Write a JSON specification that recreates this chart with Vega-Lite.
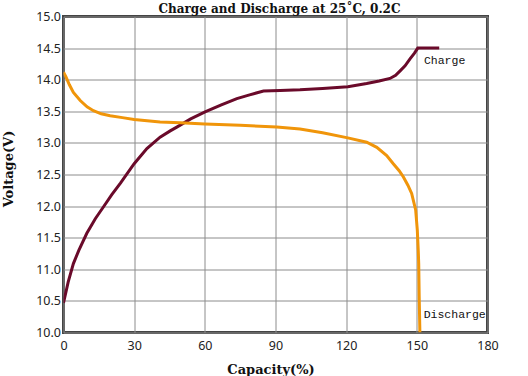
{
  "$schema": "https://vega.github.io/schema/vega-lite/v6.json",
  "width": 424,
  "height": 316,
  "autosize": {"type": "none"},
  "padding": {"left": 63.5, "top": 16.5, "right": 40.5, "bottom": 43.5},
  "background": "white",
  "title": {
    "text": "Charge and Discharge at 25˚C, 0.2C",
    "font": "DejaVu Serif",
    "fontSize": 12,
    "fontWeight": "bold",
    "color": "#111",
    "baseline": "middle",
    "offset": 1,
    "dx": 4,
    "dy": 11.5
  },
  "datasets": {
    "curves": [
      {"series": "Charge", "x": 0, "v": 10.47},
      {"series": "Charge", "x": 2, "v": 10.8},
      {"series": "Charge", "x": 4.2, "v": 11.09},
      {"series": "Charge", "x": 6.5, "v": 11.3},
      {"series": "Charge", "x": 9.9, "v": 11.57},
      {"series": "Charge", "x": 13.5, "v": 11.8},
      {"series": "Charge", "x": 17, "v": 11.99},
      {"series": "Charge", "x": 20.5, "v": 12.18},
      {"series": "Charge", "x": 24.1, "v": 12.36},
      {"series": "Charge", "x": 30, "v": 12.67},
      {"series": "Charge", "x": 35.4, "v": 12.91},
      {"series": "Charge", "x": 41, "v": 13.09},
      {"series": "Charge", "x": 45.3, "v": 13.19},
      {"series": "Charge", "x": 48.1, "v": 13.25},
      {"series": "Charge", "x": 54, "v": 13.38},
      {"series": "Charge", "x": 60.1, "v": 13.49},
      {"series": "Charge", "x": 67, "v": 13.6},
      {"series": "Charge", "x": 73.6, "v": 13.7},
      {"series": "Charge", "x": 79, "v": 13.76},
      {"series": "Charge", "x": 84.9, "v": 13.82},
      {"series": "Charge", "x": 92, "v": 13.83},
      {"series": "Charge", "x": 100.4, "v": 13.84},
      {"series": "Charge", "x": 110, "v": 13.86},
      {"series": "Charge", "x": 120.7, "v": 13.89},
      {"series": "Charge", "x": 128.7, "v": 13.94},
      {"series": "Charge", "x": 134, "v": 13.98},
      {"series": "Charge", "x": 138.6, "v": 14.02},
      {"series": "Charge", "x": 141, "v": 14.07},
      {"series": "Charge", "x": 142.9, "v": 14.14},
      {"series": "Charge", "x": 145, "v": 14.22},
      {"series": "Charge", "x": 147.1, "v": 14.33},
      {"series": "Charge", "x": 149, "v": 14.42},
      {"series": "Charge", "x": 150.4, "v": 14.5},
      {"series": "Charge", "x": 159.5, "v": 14.5},
      {"series": "Discharge", "x": 0, "v": 14.12},
      {"series": "Discharge", "x": 1, "v": 14.05},
      {"series": "Discharge", "x": 2.5, "v": 13.92},
      {"series": "Discharge", "x": 4.2, "v": 13.8},
      {"series": "Discharge", "x": 7.1, "v": 13.67},
      {"series": "Discharge", "x": 10, "v": 13.57},
      {"series": "Discharge", "x": 12.7, "v": 13.51},
      {"series": "Discharge", "x": 16, "v": 13.46},
      {"series": "Discharge", "x": 19.8, "v": 13.43},
      {"series": "Discharge", "x": 25, "v": 13.4},
      {"series": "Discharge", "x": 30, "v": 13.37},
      {"series": "Discharge", "x": 41, "v": 13.33},
      {"series": "Discharge", "x": 49.5, "v": 13.32},
      {"series": "Discharge", "x": 60, "v": 13.3},
      {"series": "Discharge", "x": 75, "v": 13.28},
      {"series": "Discharge", "x": 90.5, "v": 13.25},
      {"series": "Discharge", "x": 100.4, "v": 13.22},
      {"series": "Discharge", "x": 110, "v": 13.16},
      {"series": "Discharge", "x": 120.7, "v": 13.08},
      {"series": "Discharge", "x": 128.7, "v": 13.01},
      {"series": "Discharge", "x": 133, "v": 12.93},
      {"series": "Discharge", "x": 137.2, "v": 12.8},
      {"series": "Discharge", "x": 140, "v": 12.67},
      {"series": "Discharge", "x": 142.5, "v": 12.56},
      {"series": "Discharge", "x": 144.3, "v": 12.46},
      {"series": "Discharge", "x": 146.2, "v": 12.33},
      {"series": "Discharge", "x": 147.8, "v": 12.2},
      {"series": "Discharge", "x": 149.5, "v": 11.94},
      {"series": "Discharge", "x": 150.2, "v": 11.62},
      {"series": "Discharge", "x": 150.6, "v": 11.3},
      {"series": "Discharge", "x": 150.8, "v": 11.09},
      {"series": "Discharge", "x": 151, "v": 10.57},
      {"series": "Discharge", "x": 151.3, "v": 10.0}
    ],
    "labels": [
      {"label": "Charge", "x": 153, "v": 14.3},
      {"label": "Discharge", "x": 152.9, "v": 10.28}
    ]
  },
  "layer": [
    {
      "data": {"name": "curves"},
      "mark": {"type": "line", "strokeWidth": 3, "clip": true},
      "encoding": {
        "x": {
          "field": "x", "type": "quantitative",
          "scale": {"domain": [0, 180], "nice": false, "zero": false},
          "axis": {
            "values": [0, 30, 60, 90, 120, 150, 180],
            "title": "Capacity(%)",
            "titleX": 207,
            "titleY": 36.5,
            "titleBaseline": "middle",
            "labelPadding": 7
          }
        },
        "y": {
          "field": "v", "type": "quantitative",
          "scale": {"domain": [10, 15], "nice": false, "zero": false},
          "axis": {
            "values": [10, 10.5, 11, 11.5, 12, 12.5, 13, 13.5, 14, 14.5, 15],
            "format": ".1f",
            "title": "Voltage(V)",
            "titleX": -55.5,
            "titleY": 152,
            "titleBaseline": "middle",
            "labelPadding": 3
          }
        },
        "color": {
          "field": "series", "type": "nominal",
          "scale": {"domain": ["Charge", "Discharge"], "range": ["#6a0a2a", "#f0950a"]},
          "legend": null
        }
      }
    },
    {
      "data": {"name": "labels"},
      "mark": {"type": "text", "align": "left", "baseline": "middle", "font": "Liberation Mono", "fontSize": 11.5, "color": "#111"},
      "encoding": {
        "x": {
          "field": "x", "type": "quantitative",
          "axis": {
            "values": [0, 30, 60, 90, 120, 150, 180],
            "title": "Capacity(%)",
            "titleX": 207,
            "titleY": 36.5,
            "titleBaseline": "middle",
            "labelPadding": 7
          }
        },
        "y": {
          "field": "v", "type": "quantitative",
          "axis": {
            "values": [10, 10.5, 11, 11.5, 12, 12.5, 13, 13.5, 14, 14.5, 15],
            "format": ".1f",
            "title": "Voltage(V)",
            "titleX": -55.5,
            "titleY": 152,
            "titleBaseline": "middle",
            "labelPadding": 3
          }
        },
        "text": {"field": "label"}
      }
    }
  ],
  "config": {
    "view": {"stroke": "#444", "strokeWidth": 3},
    "axis": {
      "grid": true,
      "gridColor": "#8c8c8c",
      "gridWidth": 1,
      "gridOpacity": 1,
      "ticks": false,
      "domain": false,
      "labelOverlap": false,
      "labelFlush": false,
      "labelFont": "Noto Sans",
      "labelFontSize": 12.5,
      "labelColor": "#222",
      "titleFont": "DejaVu Serif",
      "titleFontSize": 13,
      "titleFontWeight": "bold",
      "titleColor": "#111"
    }
  }
}
